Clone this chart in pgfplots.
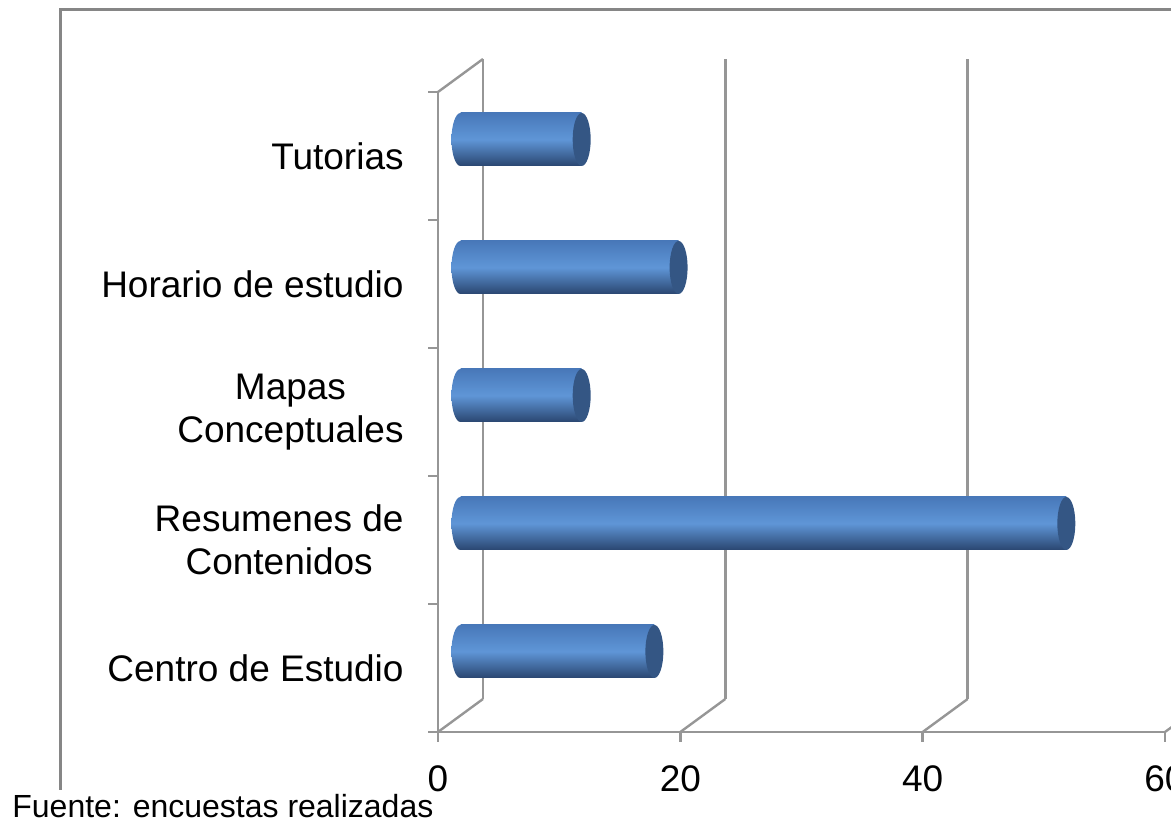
\documentclass[border=0pt]{standalone}
\usepackage{fontspec}
\setmainfont{Liberation Sans}
\usepackage{pgfplots}
\pgfplotsset{compat=1.18}
\definecolor{axgray}{RGB}{150,150,150}
\definecolor{gridgray}{RGB}{150,150,150}
\definecolor{bordergray}{RGB}{134,134,134}
\definecolor{barTop}{RGB}{72,120,185}
\definecolor{barMid}{RGB}{95,150,215}
\definecolor{barBot}{RGB}{42,70,112}
\definecolor{capDark}{RGB}{52,86,132}
\pgfdeclareverticalshading{cylshade}{100bp}{color(0bp)=(barBot); color(25bp)=(barBot); color(50bp)=(barMid); color(75bp)=(barTop); color(100bp)=(barTop)}
\pgfdeclareplotmark{capL}{\pgfpathellipse{\pgfpointorigin}{\pgfqpoint{4.5pt}{0pt}}{\pgfqpoint{0pt}{13.25pt}}\pgfshadepath{cylshade}{0}\pgfusepath{discard}}
\pgfdeclareplotmark{capR}{\pgfpathellipse{\pgfpointorigin}{\pgfqpoint{4.5pt}{0pt}}{\pgfqpoint{0pt}{13.25pt}}\pgfusepathqfill}
\pgfplotsset{cyl/.style={xbar, bar width=26.5pt, bar shift=0pt, draw=none, top color=barTop, bottom color=barBot, middle color=barMid}}
\begin{document}
\begin{tikzpicture}
\useasboundingbox (0,0) rectangle (585.5pt,411pt);
% back wall grid
\begin{axis}[
  at={(241.5pt,61.5pt)}, anchor=south west,
  scale only axis, width=363.5pt, height=320pt,
  xmin=0, xmax=60, ymin=-0.5, ymax=4.5,
  axis line style={draw=none},
  xtick={0,20,40,60}, xticklabels={{},{},{},{}}, ytick=\empty,
  major tick length=0pt,
  xmajorgrids, grid style={gridgray, line width=1.2pt},
]
\addplot[draw=none] coordinates {(0,0)};
\end{axis}
% front axis
\begin{axis}[
  at={(219pt,45pt)}, anchor=south west,
  scale only axis, width=363.5pt, height=320pt,
  xmin=0, xmax=60, ymin=-0.5, ymax=4.5,
  clip=false,
  axis x line*=bottom, axis y line*=left,
  axis line style={-, draw=axgray, line width=1.3pt},
  tick align=outside, major tick length=5pt,
  tick style={draw=axgray, line width=1.3pt},
  xtick={0,20,40,60},
  /pgf/number format/assume math mode=true,
  xticklabel style={font=\fontsize{18.5}{21.5}\selectfont, inner sep=0pt, yshift=-11.5pt},
  ytick={-0.5,0.5,1.5,2.5,3.5,4.5}, yticklabels={{},{},{},{},{},{}},
  extra y ticks={0,1,2,3,4},
  extra y tick labels={Centro de Estudio,{Resumenes de\\Contenidos},{Mapas\\Conceptuales},Horario de estudio,Tutorias},
  extra y tick style={major tick length=0pt, tick style={draw=none}},
  yticklabel style={font=\fontsize{18.5}{21.5}\selectfont, align=center, inner sep=0pt, xshift=-17pt},
]
\addplot[draw=none] coordinates {(0,0)};
\draw[gridgray, line width=1.2pt] (axis cs:0,-0.5) -- ++(22.5pt,16.5pt);
\draw[gridgray, line width=1.2pt] (axis cs:20,-0.5) -- ++(22.5pt,16.5pt);
\draw[gridgray, line width=1.2pt] (axis cs:40,-0.5) -- ++(22.5pt,16.5pt);
\draw[gridgray, line width=1.2pt] (axis cs:60,-0.5) -- ++(22.5pt,16.5pt);
\draw[gridgray, line width=1.2pt] (axis cs:0,4.5) -- ++(22.5pt,16.5pt);
\end{axis}
% bars
\begin{axis}[
  at={(230.25pt,53.25pt)}, anchor=south west,
  scale only axis, width=363.5pt, height=320pt,
  xmin=0, xmax=60, ymin=-0.5, ymax=4.5,
  hide axis, clip=false,
]
\addplot[only marks, mark=capL] coordinates {(0,0) (0,1) (0,2) (0,3) (0,4)};
\addplot[cyl] coordinates {(16,0)};
\addplot[cyl] coordinates {(50,1)};
\addplot[cyl] coordinates {(10,2)};
\addplot[cyl] coordinates {(18,3)};
\addplot[cyl] coordinates {(10,4)};
\addplot[only marks, mark=capR, mark options={fill=capDark, draw=none}]
  coordinates {(16,0) (50,1) (10,2) (18,3) (10,4)};
\end{axis}
\draw[bordergray, line width=1.5pt] (30pt,16pt) -- (30pt,406pt) -- (600pt,406pt);
\node[anchor=base west, inner sep=0pt, font=\fontsize{16}{19}\selectfont] at (6pt,2pt) {Fuente: encuestas realizadas};
\end{tikzpicture}
\end{document}
